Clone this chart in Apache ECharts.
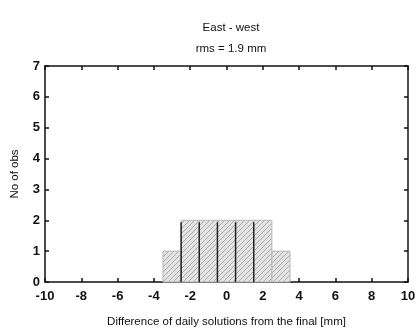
<!DOCTYPE html>
<html>
<head>
<meta charset="utf-8">
<script src="https://cdn.jsdelivr.net/npm/echarts@6/dist/echarts.min.js"></script>
<style>
  html, body { margin: 0; padding: 0; background: #fff; }
  #chart { width: 417px; height: 335px; }
</style>
</head>
<body>
<div id="chart"></div>
<script>
// histogram bins (centre, mm) and counts
var binCenters = [-3, -2, -1, 0, 1, 2, 3];
var binCounts = [1, 2, 2, 2, 2, 2, 1];
var binWidth = 1;

var titleText = 'East - west';
var subText = 'rms = 1.9 mm';
var xName = 'Difference of daily solutions from the final [mm]';
var yName = 'No of obs';

// diagonal hatch pattern
var hatch = document.createElement('canvas');
hatch.width = 5; hatch.height = 5;
var hc = hatch.getContext('2d');
hc.fillStyle = '#e4e4e4';
hc.fillRect(0, 0, 5, 5);
hc.strokeStyle = '#9a9a9a';
hc.lineWidth = 0.8;
hc.beginPath();
hc.moveTo(0, 5); hc.lineTo(5, 0);
hc.moveTo(-1, 1); hc.lineTo(1, -1);
hc.moveTo(4, 6); hc.lineTo(6, 4);
hc.stroke();

var chart = echarts.init(document.getElementById('chart'));
var font = 'Liberation Sans, Arial, sans-serif';

var data = binCenters.map(function (c, i) { return [c, binCounts[i]]; });

var frameLine = { show: true, onZero: false, lineStyle: { color: '#111', width: 1.5 } };
var frameTick = { show: true, inside: true, length: 4, lineStyle: { color: '#111', width: 1.5 } };

var option = {
    animation: false,
    title: [
        { text: titleText, left: 226, top: 17, textAlign: 'center',
          textStyle: { fontFamily: font, fontSize: 11.5, fontWeight: 'normal', color: '#111' } },
        { text: subText, left: 226, top: 38, textAlign: 'center',
          textStyle: { fontFamily: font, fontSize: 11.5, fontWeight: 'normal', color: '#111' } }
    ],
    grid: { left: 45, right: 9, top: 66, bottom: 53, containLabel: false, outerBoundsMode: 'none' },
    xAxis: [
        {
            type: 'value', min: -10, max: 10, interval: 2,
            name: xName, nameLocation: 'middle', nameGap: 34,
            nameTextStyle: { fontFamily: font, fontSize: 11.5, color: '#111' },
            axisLine: frameLine,
            axisTick: frameTick,
            axisLabel: { fontFamily: font, fontSize: 13, fontWeight: 'bold', color: '#111', margin: 8 },
            splitLine: { show: false }
        },
        {
            type: 'value', min: -10, max: 10, interval: 2, position: 'top',
            axisLine: frameLine,
            axisTick: frameTick,
            axisLabel: { show: false },
            splitLine: { show: false }
        }
    ],
    yAxis: [
        {
            type: 'value', min: 0, max: 7, interval: 1,
            name: yName, nameLocation: 'middle', nameGap: 24, nameRotate: 90,
            nameTextStyle: { fontFamily: font, fontSize: 11.5, color: '#111' },
            axisLine: frameLine,
            axisTick: frameTick,
            axisLabel: { fontFamily: font, fontSize: 13, fontWeight: 'bold', color: '#111', margin: 5 },
            splitLine: { show: false }
        },
        {
            type: 'value', min: 0, max: 7, interval: 1, position: 'right',
            axisLine: frameLine,
            axisTick: frameTick,
            axisLabel: { show: false },
            splitLine: { show: false }
        }
    ],
    series: [
        {
            type: 'custom',
            xAxisIndex: 0,
            yAxisIndex: 0,
            data: data,
            z: 1,
            renderItem: function (params, api) {
                var c = api.value(0), n = api.value(1);
                var p0 = api.coord([c - binWidth / 2, n]);
                var p1 = api.coord([c + binWidth / 2, 0]);
                var children = [{
                    type: 'rect',
                    shape: { x: p0[0], y: p0[1], width: p1[0] - p0[0], height: p1[1] - p0[1] },
                    style: { fill: { image: hatch, repeat: 'repeat' }, stroke: '#b8b8b8', lineWidth: 1 }
                }];
                if (params.dataIndex > 0 && params.dataIndex < binCenters.length - 1) {
                    children.push({
                        type: 'line',
                        shape: { x1: p0[0], y1: p0[1] + 2, x2: p0[0], y2: p1[1] },
                        style: { stroke: '#222', lineWidth: 1.5 }
                    });
                }
                return { type: 'group', children: children };
            }
        }
    ]
};
chart.setOption(option);
</script>
</body>
</html>
